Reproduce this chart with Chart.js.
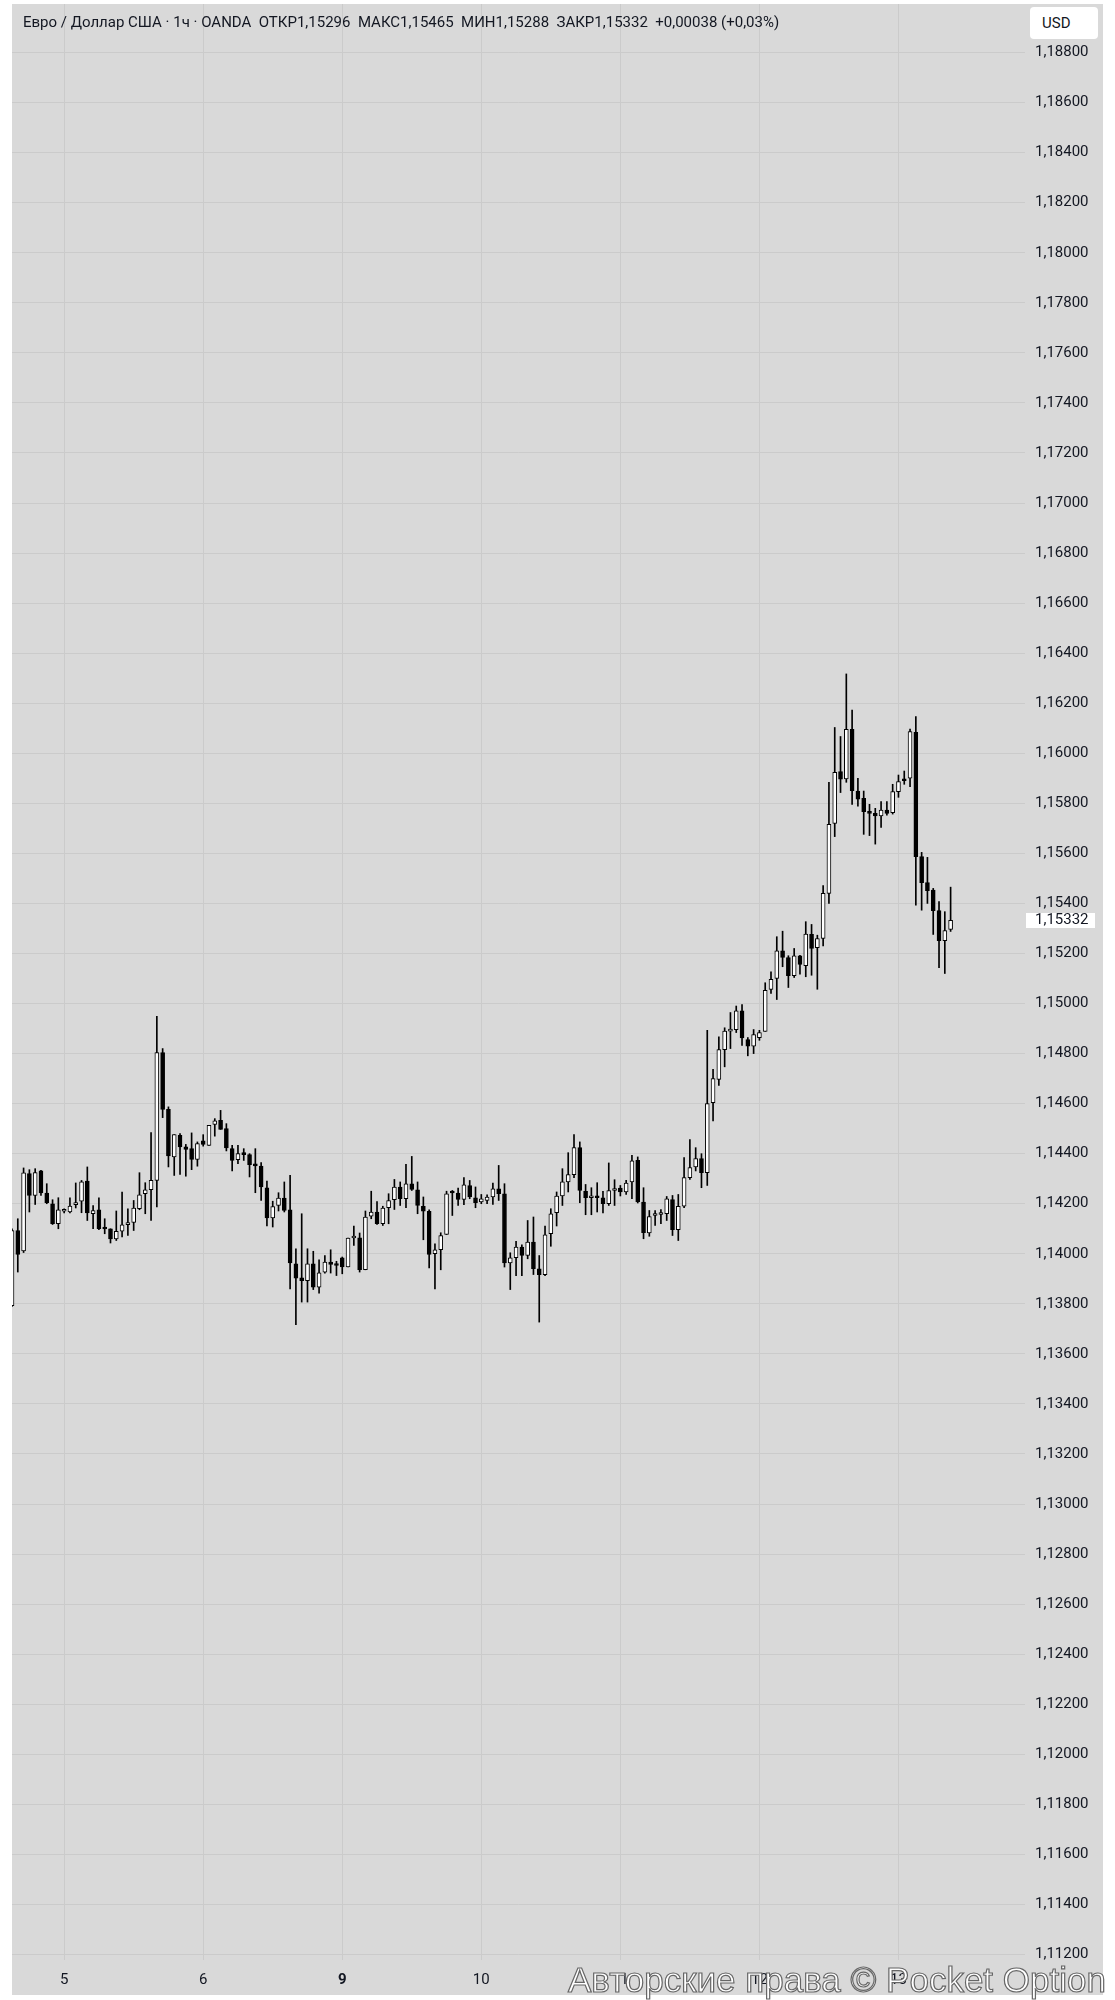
<!DOCTYPE html>
<html>
<head>
<meta charset="utf-8">
<script src="https://cdn.jsdelivr.net/npm/chart.js@4"></script>
<style>
  html, body { margin: 0; padding: 0; background: #ffffff; }
  body { width: 1115px; height: 2000px; position: relative; overflow: hidden; font-family: Roboto, sans-serif; }
  #panel { position: absolute; left: 12px; top: 4px; width: 1091px; height: 1991px; background: #d9d9d9; }
  #c { position: absolute; left: 12px; top: 4px; }
  #hdr { position: absolute; left: 23px; top: 12px; font: 15px Roboto; line-height: 20px; color: #131722; white-space: pre; }
  #usd { position: absolute; left: 1030px; top: 7px; width: 68px; height: 32px; background: #ffffff; border-radius: 4px;
         font: 15px Roboto; line-height: 32px; color: #131722; box-sizing: border-box; padding-left: 12px; }
  #wm { position: absolute; left: 568px; top: 1962px; font: 35px "Liberation Sans", Arial, sans-serif; line-height: 35px;
        color: #ffffff; -webkit-text-stroke: 1.2px #666666; white-space: pre; }
</style>
</head>
<body>
<div id="panel"></div>
<canvas id="c" width="1091" height="1991"></canvas>
<div id="hdr">Евро / Доллар США · 1ч · OANDA  ОТКР1,15296  МАКС1,15465  МИН1,15288  ЗАКР1,15332  +0,00038 (+0,03%)</div>
<div id="usd">USD</div>
<div id="wm">Авторские права © Pocket Option</div>
<script>
// ---- data (hourly EUR/USD candles) ----
const opens = [
1.13793,1.14093,1.14011,1.14320,1.14233,1.14331,1.14243,1.14200,1.14120,1.14170,
1.14167,1.14196,1.14210,1.14290,1.14160,1.14176,1.14103,1.14100,1.14059,1.14090,
1.14116,1.14125,1.14180,1.14240,1.14256,1.14293,1.14804,1.14577,1.14387,1.14473,
1.14427,1.14420,1.14377,1.14451,1.14433,1.14517,1.14533,1.14500,1.14420,1.14376,
1.14400,1.14396,1.14356,1.14350,1.14264,1.14143,1.14193,1.14223,1.14176,1.13960,
1.13904,1.13893,1.13960,1.13867,1.13927,1.13967,1.13957,1.13984,1.13947,1.14063,
1.14064,1.13936,1.14150,1.14167,1.14120,1.14184,1.14216,1.14267,1.14220,1.14280,
1.14256,1.14190,1.14170,1.14000,1.14016,1.14077,1.14247,1.14243,1.14217,1.14273,
1.14224,1.14207,1.14213,1.14227,1.14260,1.14240,1.13963,1.13984,1.14027,1.13993,
1.14047,1.13940,1.13917,1.14080,1.14164,1.14231,1.14287,1.14316,1.14424,1.14250,
1.14224,1.14231,1.14224,1.14200,1.14253,1.14263,1.14247,1.14287,1.14373,1.14207,
1.14083,1.14153,1.14157,1.14160,1.14217,1.14096,1.14190,1.14304,1.14347,1.14380,
1.14324,1.14604,1.14697,1.14816,1.14890,1.14896,1.14971,1.14856,1.14830,1.14864,
1.14889,1.15056,1.15100,1.15211,1.15184,1.15111,1.15191,1.15151,1.15276,1.15223,
1.15260,1.15440,1.15720,1.15927,1.15897,1.16096,1.15849,1.15820,1.15767,1.15760,
1.15750,1.15773,1.15763,1.15847,1.15897,1.15900,1.16084,1.15587,1.15483,1.15453,
1.15371,1.15251,1.15296];
const highs = [
1.14100,1.14140,1.14343,1.14336,1.14340,1.14333,1.14280,1.14216,1.14224,1.14180,
1.14224,1.14283,1.14293,1.14347,1.14193,1.14224,1.14140,1.14100,1.14171,1.14247,
1.14180,1.14213,1.14324,1.14284,1.14484,1.14949,1.14820,1.14587,1.14476,1.14480,
1.14437,1.14483,1.14447,1.14476,1.14513,1.14540,1.14573,1.14520,1.14433,1.14433,
1.14420,1.14400,1.14420,1.14364,1.14290,1.14210,1.14244,1.14287,1.14313,1.14020,
1.14160,1.14020,1.14010,1.13976,1.13993,1.14016,1.13970,1.13987,1.14063,1.14111,
1.14083,1.14171,1.14250,1.14209,1.14190,1.14240,1.14297,1.14287,1.14357,1.14389,
1.14287,1.14227,1.14176,1.14040,1.14084,1.14250,1.14253,1.14263,1.14304,1.14293,
1.14267,1.14237,1.14236,1.14283,1.14353,1.14280,1.14004,1.14050,1.14036,1.14133,
1.14147,1.13993,1.14111,1.14180,1.14247,1.14340,1.14404,1.14476,1.14447,1.14277,
1.14264,1.14284,1.14250,1.14363,1.14296,1.14273,1.14293,1.14393,1.14387,1.14264,
1.14173,1.14173,1.14177,1.14229,1.14233,1.14237,1.14384,1.14456,1.14424,1.14400,
1.14893,1.14737,1.14867,1.14903,1.14964,1.14990,1.14996,1.14864,1.14896,1.14893,
1.15083,1.15127,1.15267,1.15289,1.15191,1.15220,1.15193,1.15327,1.15316,1.15273,
1.15471,1.15884,1.16103,1.16067,1.16317,1.16173,1.15900,1.15849,1.15796,1.15780,
1.15807,1.15807,1.15876,1.15913,1.15929,1.16097,1.16147,1.15604,1.15584,1.15460,
1.15407,1.15367,1.15465];
const lows = [
1.13790,1.13927,1.14005,1.14167,1.14197,1.14233,1.14200,1.14117,1.14100,1.14163,
1.14163,1.14183,1.14164,1.14133,1.14100,1.14096,1.14080,1.14043,1.14053,1.14067,
1.14073,1.14093,1.14176,1.14160,1.14133,1.14187,1.14544,1.14347,1.14313,1.14317,
1.14310,1.14336,1.14350,1.14430,1.14433,1.14470,1.14497,1.14411,1.14331,1.14360,
1.14373,1.14307,1.14244,1.14213,1.14111,1.14107,1.14171,1.14167,1.13860,1.13717,
1.13807,1.13807,1.13857,1.13843,1.13923,1.13923,1.13913,1.13920,1.13947,1.14033,
1.13927,1.13936,1.14140,1.14117,1.14113,1.14120,1.14177,1.14193,1.14184,1.14253,
1.14160,1.14056,1.13943,1.13860,1.13936,1.14077,1.14153,1.14193,1.14196,1.14220,
1.14184,1.14200,1.14200,1.14197,1.14213,1.13947,1.13857,1.13913,1.13913,1.13980,
1.13917,1.13727,1.13913,1.14030,1.14111,1.14193,1.14247,1.14304,1.14204,1.14156,
1.14156,1.14167,1.14163,1.14193,1.14193,1.14231,1.14237,1.14220,1.14203,1.14060,
1.14070,1.14113,1.14120,1.14133,1.14073,1.14053,1.14184,1.14297,1.14331,1.14264,
1.14273,1.14531,1.14673,1.14747,1.14820,1.14884,1.14833,1.14791,1.14800,1.14853,
1.14889,1.15040,1.15016,1.15147,1.15064,1.15104,1.15117,1.15107,1.15113,1.15057,
1.15230,1.15400,1.15667,1.15843,1.15884,1.15796,1.15789,1.15676,1.15671,1.15637,
1.15704,1.15753,1.15757,1.15824,1.15876,1.15867,1.15393,1.15373,1.15400,1.15276,
1.15143,1.15120,1.15288];
const closes = [
1.14093,1.13997,1.14323,1.14233,1.14324,1.14243,1.14204,1.14120,1.14176,1.14173,
1.14191,1.14205,1.14287,1.14163,1.14173,1.14100,1.14099,1.14059,1.14090,1.14116,
1.14125,1.14183,1.14236,1.14256,1.14293,1.14804,1.14577,1.14391,1.14476,1.14427,
1.14417,1.14377,1.14440,1.14437,1.14513,1.14531,1.14497,1.14423,1.14373,1.14400,
1.14396,1.14356,1.14351,1.14267,1.14143,1.14189,1.14223,1.14173,1.13963,1.13903,
1.13893,1.13960,1.13867,1.13924,1.13967,1.13957,1.13953,1.13947,1.14063,1.14066,
1.13936,1.14147,1.14167,1.14120,1.14183,1.14213,1.14267,1.14220,1.14280,1.14257,
1.14193,1.14170,1.13997,1.14016,1.14073,1.14240,1.14243,1.14217,1.14276,1.14227,
1.14204,1.14220,1.14227,1.14260,1.14240,1.13963,1.13984,1.14027,1.13993,1.14047,
1.13940,1.13917,1.14076,1.14160,1.14231,1.14287,1.14316,1.14424,1.14253,1.14224,
1.14231,1.14224,1.14200,1.14253,1.14260,1.14247,1.14283,1.14371,1.14207,1.14084,
1.14149,1.14157,1.14160,1.14220,1.14096,1.14190,1.14304,1.14344,1.14380,1.14324,
1.14600,1.14700,1.14816,1.14890,1.14896,1.14971,1.14863,1.14830,1.14876,1.14884,
1.15053,1.15097,1.15211,1.15184,1.15111,1.15191,1.15156,1.15277,1.15220,1.15260,
1.15440,1.15716,1.15924,1.15896,1.16096,1.15851,1.15817,1.15767,1.15760,1.15750,
1.15773,1.15760,1.15847,1.15887,1.15890,1.16087,1.15587,1.15483,1.15451,1.15371,
1.15251,1.15291,1.15332];

// day separators (candle index of 00:00) and their labels
const dayIdx    = [9, 33, 57, 81, 105, 129, 153];
const dayLabels = ['5', '6', '9', '10', '11', '12', '13'];
const boldDayIdx = 57;

// price axis tick values
const yTicks = [];
for (let k = 0; k <= 38; k++) yTicks.push(+(1.112 + k * 0.002).toFixed(3));

// visible ranges of the axes
const xMin = 0, xMax = 174.84;
const yMin = 1.11178, yMax = 1.18994;

const fmt = v => v.toFixed(5).replace('.', ',');
const idx = opens.map((_, i) => i);
const wickData = idx.map(i => ({ x: i, y: [lows[i], highs[i]] }));
const bodyData = idx.map(i => ({ x: i, y: [opens[i], closes[i]] }));
const isUp = i => closes[i] >= opens[i];

const priceLabel = {
  id: 'priceLabel',
  afterDraw(chart) {
    const ctx = chart.ctx, ys = chart.scales.y, a = chart.chartArea;
    const last = closes[closes.length - 1];
    const y = ys.getPixelForValue(last);
    ctx.save();
    ctx.fillStyle = '#ffffff';
    ctx.fillRect(a.right + 1, Math.round(y - 7.5), 69, 15);
    ctx.fillStyle = '#131722';
    ctx.font = '15px Roboto';
    ctx.textBaseline = 'middle';
    ctx.textAlign = 'left';
    ctx.fillText(fmt(last), a.right + 10, y);
    ctx.restore();
  }
};

const gridColor = '#cbcbcb';

new Chart(document.getElementById('c'), {
  type: 'bar',
  data: {
    datasets: [
      { label: 'wick', data: wickData, order: 2, barThickness: 1, backgroundColor: '#000000',
        borderWidth: 0, minBarLength: 1 },
      { label: 'body', data: bodyData, order: 1, barThickness: 4,
        backgroundColor: c => isUp(c.dataIndex) ? '#ffffff' : '#000000',
        borderColor: '#000000', borderWidth: 1, borderSkipped: false, minBarLength: 2 }
    ]
  },
  options: {
    responsive: false,
    animation: false,
    devicePixelRatio: 1,
    grouped: false,
    layout: { padding: 0 },
    plugins: { legend: { display: false }, tooltip: { enabled: false } },
    scales: {
      x: {
        type: 'linear', min: xMin, max: xMax, offset: false,
        afterBuildTicks: s => { s.ticks = dayIdx.map(v => ({ value: v })); },
        afterFit: s => { s.height = 35; s.paddingLeft = 0; s.paddingRight = 0; },
        grid: { color: gridColor, lineWidth: 1, drawTicks: false, offset: false },
        border: { display: false },
        ticks: {
          autoSkip: false, maxRotation: 0, padding: 11, color: '#131722',
          font: c => ({ family: 'Roboto', size: 15, weight: (c.tick && c.tick.value === boldDayIdx) ? 'bold' : 'normal' }),
          callback: (v, i) => dayLabels[i]
        }
      },
      y: {
        type: 'linear', position: 'right', min: yMin, max: yMax,
        afterBuildTicks: s => { s.ticks = yTicks.map(v => ({ value: v })); },
        afterFit: s => { s.width = 78; s.paddingTop = 0; s.paddingBottom = 0; },
        grid: { color: gridColor, lineWidth: 1, drawTicks: false, offset: false },
        border: { display: false },
        ticks: { autoSkip: false, padding: 10, color: '#131722', font: { family: 'Roboto', size: 15 },
                 callback: v => fmt(v) }
      }
    }
  },
  plugins: [priceLabel]
});
</script>
</body>
</html>
